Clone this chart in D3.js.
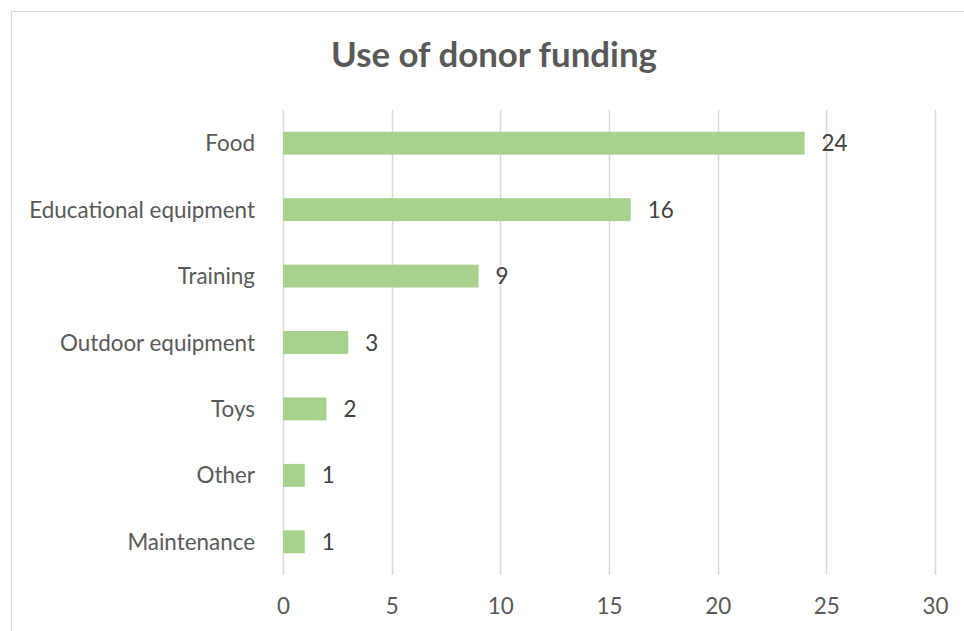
<!DOCTYPE html>
<html>
<head>
<meta charset="utf-8">
<script src="https://cdn.jsdelivr.net/npm/d3@7"></script>
<style>
  html, body { margin: 0; padding: 0; background: #fff; }
  svg { display: block; }
  text { font-family: Lato, "Open Sans", sans-serif; }
</style>
</head>
<body>
<svg id="chart" width="964" height="631"></svg>
<script>
const categories = ["Food", "Educational equipment", "Training", "Outdoor equipment", "Toys", "Other", "Maintenance"];
const values = [24, 16, 9, 3, 2, 1, 1];
const xTicks = [0, 5, 10, 15, 20, 25, 30];
const title = "Use of donor funding";

const W = 964, H = 631;
const svg = d3.select("#chart");
const m = { left: 283, right: 29, top: 110, bottom: 56 };

// chart frame
svg.append("rect").attr("x", 11.5).attr("y", 11.5).attr("width", 980).attr("height", 640)
  .attr("fill", "#fff").attr("stroke", "#d9d9d9").attr("stroke-width", 1);

const x = d3.scaleLinear().domain([0, 30]).range([m.left, W - m.right]);
const y = d3.scaleBand().domain(categories).range([m.top, H - m.bottom]).paddingInner(0.655).paddingOuter(0.3275);

// fit font sizes to reference widths
function fitSize(str, targetW, weight) {
  const t = svg.append("text").attr("font-size", 100).attr("font-weight", weight).text(str);
  const w = t.node().getComputedTextLength();
  t.remove();
  return 100 * targetW / w;
}
const labelSize = fitSize("Educational equipment", 226, "normal");
const titleSize = fitSize(title, 326, "bold");

// gridlines
svg.append("g").selectAll("line").data(xTicks).join("line")
  .attr("x1", d => Math.round(x(d)) + 0.5).attr("x2", d => Math.round(x(d)) + 0.5)
  .attr("y1", m.top).attr("y2", H - m.bottom)
  .attr("stroke", "#d9d9d9").attr("stroke-width", 1.5);

// x axis labels
const xAxis = d3.axisBottom(x).tickValues(xTicks).tickSize(0).tickPadding(0);
const gx = svg.append("g").attr("transform", `translate(0,${H - m.bottom})`).call(xAxis);
gx.select(".domain").remove();
gx.selectAll("text").attr("font-size", labelSize).attr("fill", "#595959")
  .attr("y", 0).attr("dy", "1.75em").style("font-family", "Lato, 'Open Sans', sans-serif");

// bars
svg.append("g").selectAll("rect").data(values).join("rect")
  .attr("x", x(0))
  .attr("y", (d, i) => y(categories[i]))
  .attr("width", d => x(d) - x(0))
  .attr("height", y.bandwidth())
  .attr("fill", "#a9d18e");

// category labels
const yAxis = d3.axisLeft(y).tickSize(0).tickPadding(28);
const gy = svg.append("g").attr("transform", `translate(${m.left},0)`).call(yAxis);
gy.select(".domain").remove();
gy.selectAll("text").attr("font-size", labelSize).attr("fill", "#595959")
  .attr("dy", "0.36em").style("font-family", "Lato, 'Open Sans', sans-serif");

// value labels
svg.append("g").selectAll("text").data(values).join("text")
  .attr("x", d => x(d) + 17)
  .attr("y", (d, i) => y(categories[i]) + y.bandwidth() / 2)
  .attr("dy", "0.36em")
  .attr("font-size", labelSize)
  .attr("fill", "#404040")
  .text(d => d);

// title
svg.append("text").attr("x", 494).attr("y", 67).attr("text-anchor", "middle")
  .attr("font-size", titleSize).attr("font-weight", "bold").attr("fill", "#595959")
  .text(title);
</script>
</body>
</html>
